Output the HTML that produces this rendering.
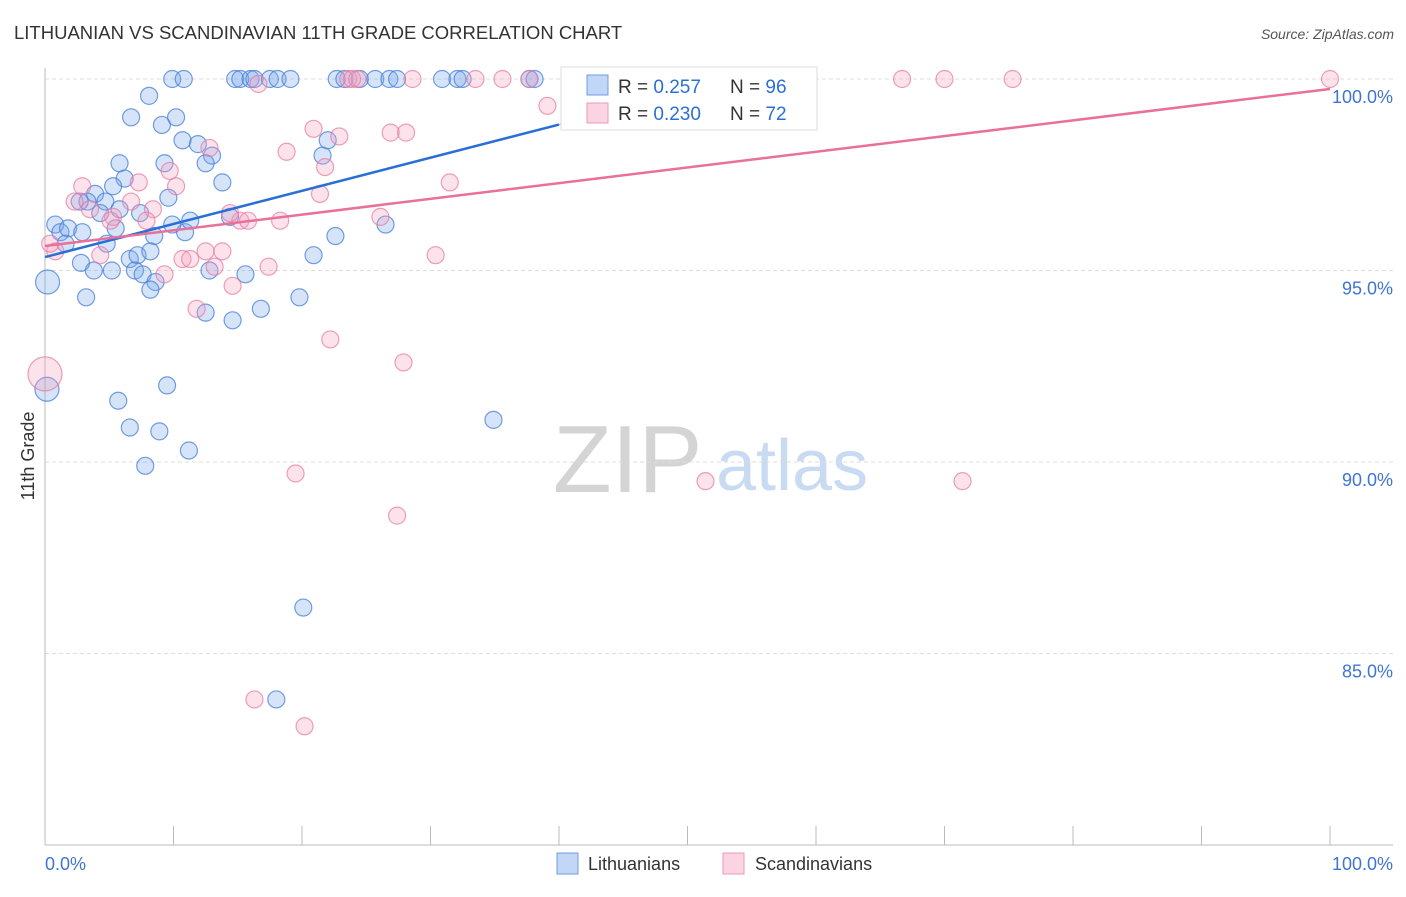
<!DOCTYPE html>
<html><head><meta charset="utf-8"><style>
body{margin:0;background:#fff;font-family:"Liberation Sans",sans-serif}
svg text{font-family:"Liberation Sans",sans-serif}
</style></head><body>
<svg id="chart" width="1406" height="892" xmlns="http://www.w3.org/2000/svg">
<text x="14" y="39" font-size="18.5" fill="#333">LITHUANIAN VS SCANDINAVIAN 11TH GRADE CORRELATION CHART</text>
<text x="1394" y="39" font-size="14" fill="#555" text-anchor="end" font-style="italic">Source: ZipAtlas.com</text>
<g>
<text x="553" y="492" font-size="96" fill="#d4d4d4" font-family="Liberation Serif">ZIP</text>
<text x="716" y="490" font-size="72" fill="#c9dbf3">atlas</text>
</g>
<g id="grid"></g><g id="axes"></g><g id="pts"></g><g id="lines"></g>
<g>
<rect x="561" y="67" width="256" height="63" fill="#fff" stroke="#ddd"/>
<rect x="587" y="75" width="21" height="20" fill="rgba(120,165,235,0.45)" stroke="#6f9de0"/>
<rect x="587" y="103" width="21" height="20" fill="rgba(245,160,190,0.45)" stroke="#eb9ab5"/>
<text x="618" y="93" font-size="19" fill="#333">R = <tspan fill="#2a6fd6">0.257</tspan></text>
<text x="730" y="93" font-size="19" fill="#333">N = <tspan fill="#2a6fd6">96</tspan></text>
<text x="618" y="120" font-size="19" fill="#333">R = <tspan fill="#2a6fd6">0.230</tspan></text>
<text x="730" y="120" font-size="19" fill="#333">N = <tspan fill="#2a6fd6">72</tspan></text>
</g>
<g>
<rect x="557" y="853" width="21" height="21" fill="rgba(120,165,235,0.45)" stroke="#6f9de0"/>
<text x="588" y="870" font-size="18" fill="#333">Lithuanians</text>
<rect x="723" y="853" width="21" height="21" fill="rgba(245,160,190,0.45)" stroke="#eb9ab5"/>
<text x="755" y="870" font-size="18" fill="#333">Scandinavians</text>
</g>
<text transform="translate(34,456) rotate(-90)" font-size="18" fill="#333" text-anchor="middle">11th Grade</text>
</svg>
<script>
const yTicks=[100,95,90,85];
const yTickLabels=["100.0%","95.0%","90.0%","85.0%"];
const blueX=[9.9,10.8,14.8,15.2,16.0,16.3,17.5,18.1,19.1,22.7,23.3,24.5,25.7,26.8,27.4,30.9,32.1,32.5,37.7,38.1,8.1,6.7,9.1,10.2,10.7,11.9,13.0,5.8,9.3,12.5,13.8,6.2,5.3,3.9,3.3,2.7,4.7,5.8,7.4,9.6,21.6,22.0,26.5,22.6,20.9,14.4,0.8,1.2,1.8,2.9,1.6,4.3,4.8,5.5,8.5,10.9,11.3,9.9,6.6,7.2,8.2,2.8,3.8,5.2,7.0,7.6,8.6,8.2,12.8,15.6,3.2,12.5,14.6,16.8,19.8,0.2,0.15,9.5,5.7,6.6,8.9,7.8,11.2,34.9,20.1,18.0];
const blueY=[100,100,100,100,100,100,100,100,100,100,100,100,100,100,100,100,100,100,100,100,99.56,99.0,98.8,99.0,98.4,98.3,98.0,97.8,97.8,97.8,97.3,97.4,97.2,97.0,96.8,96.8,96.8,96.6,96.5,96.9,98.0,98.4,96.2,95.9,95.4,96.4,96.2,96.0,96.1,96.0,95.7,96.5,95.7,96.1,95.9,96.0,96.3,96.2,95.3,95.4,95.5,95.2,95.0,95.0,95.0,94.9,94.7,94.5,95.0,94.9,94.3,93.9,93.7,94.0,94.3,94.7,91.9,92.0,91.6,90.9,90.8,89.9,90.3,91.1,86.2,83.8];
const blueBig=[75,76];
const pinkX=[16.6,23.6,23.9,24.3,28.6,33.5,35.6,37.7,42.0,46.9,66.7,70.0,75.3,100,39.1,20.9,22.9,26.9,28.1,18.8,12.8,21.8,31.5,21.4,26.1,30.4,2.9,7.3,10.2,9.7,2.3,3.5,5.3,6.7,8.4,7.9,5.1,15.2,15.8,18.3,14.4,0.8,4.3,9.3,10.7,11.3,12.5,13.8,13.2,17.4,14.6,11.8,22.2,27.9,19.5,27.4,16.3,20.2,51.4,71.4,0,0.4];
const pinkY=[99.87,100,100,100,100,100,100,100,100,100,100,100,100,100,99.3,98.7,98.5,98.6,98.6,98.1,98.2,97.7,97.3,97.0,96.4,95.4,97.2,97.3,97.2,97.6,96.8,96.6,96.4,96.8,96.6,96.3,96.3,96.3,96.3,96.3,96.5,95.5,95.4,94.9,95.3,95.3,95.5,95.5,95.1,95.1,94.6,94.0,93.2,92.6,89.7,88.6,83.8,83.1,89.5,89.5,92.3,95.7];
const pinkBig=[60];
const blueFit=[95.35,104.0];
const pinkFit=[95.64,99.74];
const NS="http://www.w3.org/2000/svg";
const X=v=>45+v*12.85, Y=v=>79+(100-v)*38.3;
function mk(t,a,p){const e=document.createElementNS(NS,t);for(const k in a)e.setAttribute(k,a[k]);p.appendChild(e);return e;}
const grid=document.getElementById('grid'),axes=document.getElementById('axes'),pts=document.getElementById('pts'),lines=document.getElementById('lines');
yTicks.forEach((t,i)=>{
 const l=mk('line',{x1:45,x2:1393,y1:Y(t),y2:Y(t),stroke:'#ddd','stroke-dasharray':'4,3'},grid);
 
 
 const tx=mk('text',{x:1393,y:Y(t)+24,'font-size':18,fill:'#3f74d4','text-anchor':'end'},axes);
 tx.textContent=yTickLabels[i];
 
 
});
mk('line',{x1:45,x2:45,y1:68,y2:845,stroke:'#bbb'},axes);
mk('line',{x1:45,x2:1393,y1:845,y2:845,stroke:'#bbb'},axes);
for(let i=0;i<=10;i++){const t=mk('line',{x1:X(i*10),x2:X(i*10),y1:826,y2:845,stroke:'#bbb'},axes);
 
 }
let a=mk('text',{x:45,y:870,'font-size':18,fill:'#3f74d4'},axes);a.textContent='0.0%';


a=mk('text',{x:1393,y:870,'font-size':18,fill:'#3f74d4','text-anchor':'end'},axes);a.textContent='100.0%';


function series(xs,ys,big,fill,stroke,name){xs.forEach((x,i)=>{
 const r=big.includes(i)?(name==='scandinavian-point'?17:12):8.5;
 const c=mk('circle',{cx:X(x),cy:Y(ys[i]),r:r,fill:fill,stroke:stroke,'stroke-width':1.2},pts);
 
 
});}
series(blueX,blueY,blueBig,'rgba(120,165,235,0.3)','rgba(70,125,215,0.75)','lithuanian-point');
series(pinkX,pinkY,pinkBig,'rgba(245,160,190,0.3)','rgba(230,120,160,0.7)','scandinavian-point');
const bl=v=>blueFit[0]+(blueFit[1]-blueFit[0])*v/100;
let ln=mk('line',{x1:X(0),y1:Y(bl(0)),x2:X(40),y2:Y(bl(40)),stroke:'#2a6fd6','stroke-width':2.5},lines);


ln=mk('line',{x1:X(40),y1:Y(bl(40)),x2:X(45),y2:Y(bl(45)),stroke:'#bbb','stroke-width':1.2,'stroke-dasharray':'5,4'},lines);


ln=mk('line',{x1:X(0),y1:Y(pinkFit[0]),x2:X(100),y2:Y(pinkFit[1]),stroke:'#e8709a','stroke-width':2.5},lines);


</script>
</body></html>
